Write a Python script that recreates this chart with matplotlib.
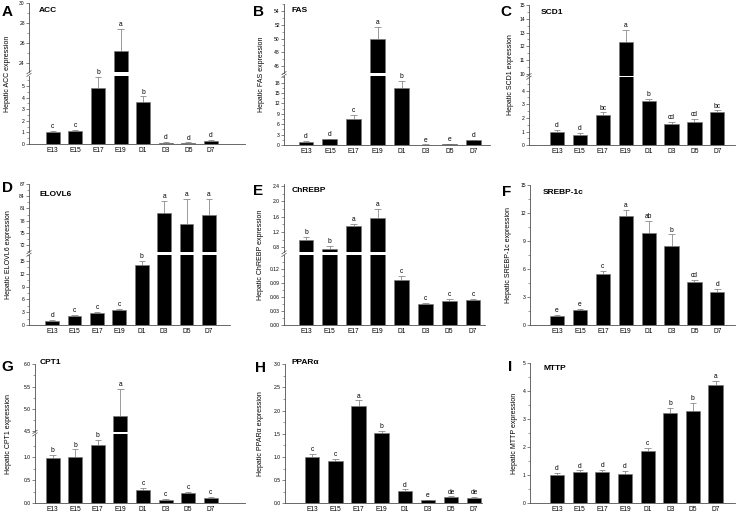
import numpy as np
import matplotlib
matplotlib.use('Agg')
import matplotlib.pyplot as plt
from matplotlib.lines import Line2D
from matplotlib.ticker import FormatStrFormatter

plt.rcParams['font.family'] = ['Liberation Sans', 'DejaVu Sans']

categories = ['E13', 'E15', 'E17', 'E19', 'D1', 'D3', 'D5', 'D7']

acc_mean = [1.0, 1.1, 4.8, 25.2, 3.65, 0.12, 0.1, 0.3]
acc_err = [0.1, 0.15, 1.0, 2.2, 0.45, 0.03, 0.03, 0.05]
acc_letters = ['c', 'c', 'b', 'a', 'b', 'd', 'd', 'd']

fas_mean = [1.0, 1.6, 7.6, 49.9, 16.5, 0.1, 0.3, 1.3]
fas_err = [0.2, 0.2, 1.0, 1.8, 2.0, 0.05, 0.1, 0.2]
fas_letters = ['d', 'd', 'c', 'a', 'b', 'e', 'e', 'd']

scd1_mean = [1.0, 0.75, 2.2, 12.3, 3.25, 1.55, 1.7, 2.4]
scd1_err = [0.15, 0.15, 0.2, 0.9, 0.15, 0.15, 0.2, 0.15]
scd1_letters = ['d', 'd', 'bc', 'a', 'b', 'cd', 'cd', 'bc']

elovl6_mean = [1.0, 2.1, 2.9, 3.4, 14.0, 79.8, 77.1, 79.5]
elovl6_err = [0.15, 0.2, 0.15, 0.3, 1.0, 3.0, 6.3, 3.8]
elovl6_letters = ['d', 'c', 'c', 'c', 'b', 'a', 'a', 'a']

chrebp_mean = [0.99, 0.75, 1.35, 1.57, 0.096, 0.045, 0.051, 0.053]
chrebp_err = [0.08, 0.08, 0.07, 0.23, 0.01, 0.003, 0.005, 0.003]
chrebp_letters = ['b', 'b', 'a', 'a', 'c', 'c', 'c', 'c']

srebp_mean = [1.0, 1.6, 5.5, 11.65, 9.8, 8.5, 4.65, 3.6]
srebp_err = [0.1, 0.15, 0.3, 0.65, 1.3, 1.2, 0.2, 0.25]
srebp_letters = ['e', 'e', 'c', 'a', 'ab', 'b', 'cd', 'd']

cpt1_mean = [0.99, 1.0, 1.27, 4.85, 0.28, 0.08, 0.22, 0.11]
cpt1_err = [0.07, 0.17, 0.1, 0.6, 0.05, 0.02, 0.03, 0.03]
cpt1_letters = ['b', 'b', 'b', 'a', 'c', 'c', 'c', 'c']

ppara_mean = [1.0, 0.91, 2.1, 1.52, 0.26, 0.07, 0.13, 0.11]
ppara_err = [0.07, 0.04, 0.12, 0.05, 0.04, 0.01, 0.02, 0.02]
ppara_letters = ['c', 'c', 'a', 'b', 'd', 'e', 'de', 'de']

mttp_mean = [1.0, 1.13, 1.12, 1.04, 1.87, 3.2, 3.27, 4.2]
mttp_err = [0.07, 0.04, 0.08, 0.1, 0.11, 0.18, 0.31, 0.15]
mttp_letters = ['d', 'd', 'd', 'd', 'c', 'b', 'b', 'a']

W, H = 740, 513
fig = plt.figure(figsize=(W / 100, H / 100), dpi=100)
AXC = '#505050'
ERRC = '#8a8a8a'


def add_ax(x0, x1, ytop, ybot):
    return fig.add_axes([x0 / W, 1 - ybot / H, (x1 - x0) / W, (ybot - ytop) / H])


def seg(ylim, top, bot, major, minor, fmt='%g'):
    return dict(ylim=ylim, top=top, bot=bot, major=major, minor=minor, fmt=fmt)


def panel(mean, err, letters, title, tag, g):
    mean = np.asarray(mean, float)
    err = np.asarray(err, float)
    x = np.arange(len(categories))
    axes = []
    for i, s in enumerate(g['segs']):
        ax = add_ax(g['x0'], g['x1'], s['top'], s['bot'])
        ax.set_xlim(*g['xlim'])
        ax.set_ylim(*s['ylim'])
        ax.bar(x, mean, width=0.62, color='black', edgecolor='#7a7a7a',
               linewidth=0.5, zorder=3)
        ax.vlines(x, mean, mean + err, color=ERRC, linewidth=0.6, zorder=2)
        ax.hlines(mean + err, x - 0.14, x + 0.14, color=ERRC, linewidth=0.6, zorder=2)
        ax.set_yticks(s['major'])
        ax.set_yticks(s['minor'], minor=True)
        ax.yaxis.set_major_formatter(FormatStrFormatter(s['fmt']))
        for sp in ['top', 'right']:
            ax.spines[sp].set_visible(False)
        ax.spines['bottom'].set_visible(i == 0)
        for sp in ['left', 'bottom']:
            ax.spines[sp].set_color(AXC)
            ax.spines[sp].set_linewidth(0.6)
        ax.tick_params(axis='y', which='major', direction='out', length=2.2,
                       width=0.5, color=AXC, labelsize=3.6, pad=0.8)
        ax.tick_params(axis='y', which='minor', direction='out', length=1.2,
                       width=0.4, color=AXC)
        if i == 0:
            ax.set_xticks(x)
            ax.set_xticklabels(categories)
            ax.tick_params(axis='x', length=0, labelsize=4.8, pad=2.2)
        else:
            ax.set_xticks([])
        ax.patch.set_alpha(0)
        axes.append(ax)
    for xi, m, e, l in zip(x, mean, err, letters):
        top = m + e
        for ax, s in zip(axes, g['segs']):
            if s['ylim'][0] <= top <= s['ylim'][1]:
                ax.annotate(l, (xi, top), xytext=(0, 0.6), textcoords='offset points',
                            ha='center', va='bottom', fontsize=4.8)
                break
    # break marks
    segs = g['segs']
    for lo, hi in zip(segs[:-1], segs[1:]):
        yg = (lo['top'] + hi['bot']) / 2
        for d in (-1.3, 1.3):
            xs = [(g['x0'] - 2.2) / W, (g['x0'] + 2.2) / W]
            ys = [1 - (yg + d + 1.6) / H, 1 - (yg + d - 1.6) / H]
            fig.add_artist(Line2D(xs, ys, transform=fig.transFigure, color=AXC, lw=0.5))
    top_px = segs[-1]['top']
    bot_px = segs[0]['bot']
    fig.text(g['title'][0] / W, 1 - g['title'][1] / H, title, fontsize=6,
             fontweight='bold', ha='left', va='center')
    fig.text(g['tag'][0] / W, 1 - g['tag'][1] / H, tag, fontsize=11,
             fontweight='bold', ha='left', va='center')
    fig.text(g['ylab'] / W, 1 - (top_px + bot_px) / 2 / H, 'Hepatic ' + title + ' expression',
             fontsize=5, rotation=90, ha='center', va='center')


def ar(a, b, st):
    return list(np.round(np.arange(a, b + st / 2, st), 4))


geoms = {
    'A': dict(x0=29, x1=245, xlim=(-1.05, 8.51), title=(39, 10), tag=(2, 11.5), ylab=8,
              segs=[seg((0, 5.9), 75.6, 144, ar(0, 5, 1), ar(0.5, 5.5, 1)),
                    seg((23.1, 30), 3.3, 71.6, ar(24, 30, 2), ar(25, 29, 2))]),
    'B': dict(x0=284, x1=490, xlim=(-0.92, 7.7), title=(292, 11), tag=(253, 12), ylab=261.5,
              segs=[seg((0, 19.9), 76.1, 145, ar(0, 18, 3), ar(1.5, 19.5, 3)),
                    seg((45, 55), 4.5, 72.8, ar(46, 54, 2), ar(45, 55, 2))]),
    'C': dict(x0=529, x1=735, xlim=(-1.22, 7.77), title=(541, 13), tag=(500, 12), ylab=510,
              segs=[seg((0, 4.97), 77.3, 145.3, ar(0, 4, 1), ar(0.5, 4.5, 1)),
                    seg((9.9, 15), 4.7, 75.6, ar(10, 15, 1), ar(10.5, 14.5, 1))]),
    'D': dict(x0=29, x1=230, xlim=(-1.03, 7.94), title=(39, 195), tag=(2, 188), ylab=9,
              segs=[seg((0, 16.1), 254.5, 325, ar(0, 15, 3), ar(1.5, 16.5, 3)),
                    seg((70.2, 87), 184, 252.4, ar(72, 87, 3), ar(70.5, 85.5, 3))]),
    'E': dict(x0=284, x1=485, xlim=(-0.92, 7.5), title=(292, 191), tag=(253, 191), ylab=260,
              segs=[seg((0, 0.15), 255, 325, ar(0, 0.12, 0.03), ar(0.015, 0.135, 0.03), '%.2f'),
                    seg((0.67, 2.45), 184, 252.3, ar(0.8, 2.4, 0.4), ar(1.0, 2.2, 0.4), '%.1f')]),
    'F': dict(x0=530, x1=735, xlim=(-1.18, 7.77), title=(543, 192), tag=(502, 192), ylab=509,
              segs=[seg((0, 15), 184.7, 325.3, ar(0, 15, 3), ar(1.5, 13.5, 3))]),
    'G': dict(x0=35, x1=245, xlim=(-0.78, 8.52), title=(40, 362), tag=(1, 367), ylab=9,
              segs=[seg((0, 1.5), 434.3, 503.3, [0, 0.5, 1.0], [0.25, 0.75, 1.25], '%.1f'),
                    seg((4.48, 6.0), 364.3, 432, ar(4.5, 6.0, 0.5), ar(4.75, 5.75, 0.5), '%.1f')]),
    'H': dict(x0=285, x1=482, xlim=(-1.18, 7.34), title=(292, 362), tag=(255, 368), ylab=260,
              segs=[seg((0, 3), 364.3, 503.3, ar(0, 3, 0.5), ar(0.25, 2.75, 0.5), '%.1f')]),
    'I': dict(x0=530, x1=735, xlim=(-1.19, 7.86), title=(544, 368), tag=(508, 367), ylab=515,
              segs=[seg((0, 5), 362.7, 503.3, ar(0, 5, 1), ar(0.5, 4.5, 1))]),
}

panel(acc_mean, acc_err, acc_letters, 'ACC', 'A', geoms['A'])
panel(fas_mean, fas_err, fas_letters, 'FAS', 'B', geoms['B'])
panel(scd1_mean, scd1_err, scd1_letters, 'SCD1', 'C', geoms['C'])
panel(elovl6_mean, elovl6_err, elovl6_letters, 'ELOVL6', 'D', geoms['D'])
panel(chrebp_mean, chrebp_err, chrebp_letters, 'ChREBP', 'E', geoms['E'])
panel(srebp_mean, srebp_err, srebp_letters, 'SREBP-1c', 'F', geoms['F'])
panel(cpt1_mean, cpt1_err, cpt1_letters, 'CPT1', 'G', geoms['G'])
panel(ppara_mean, ppara_err, ppara_letters, 'PPARα', 'H', geoms['H'])
panel(mttp_mean, mttp_err, mttp_letters, 'MTTP', 'I', geoms['I'])

fig.savefig('out.png', dpi=100)
